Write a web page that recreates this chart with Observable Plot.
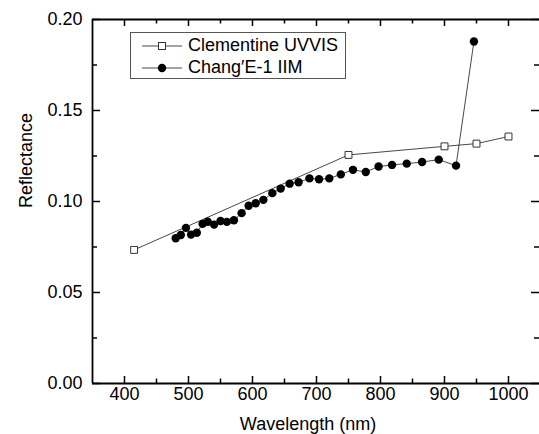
<!DOCTYPE html>
<html><head><meta charset="utf-8">
<script src="https://cdn.jsdelivr.net/npm/d3@7"></script>
<script src="https://cdn.jsdelivr.net/npm/@observablehq/plot@0.6"></script>
<style>
body{margin:0;background:#fff}
#wrap{position:relative;width:539px;height:434px;overflow:hidden}
#wrap svg{display:block}
#legend{position:absolute;left:0;top:0}
</style>
</head><body><div id="wrap"></div>
<script>
const clemWavelength = [415, 750, 900, 950, 1000];
const clemReflectance = [0.0734, 0.1256, 0.1303, 0.1318, 0.1357];
const ceWavelength = [480, 488, 496, 504, 513, 522, 530, 540, 550, 560, 571, 583, 594, 605, 617, 631,
                      644, 658, 672, 689, 704, 720, 738, 757, 777, 797, 818, 841, 865, 891, 918, 946];
const ceReflectance = [0.0798, 0.0816, 0.0855, 0.0818, 0.0828, 0.0877, 0.0889, 0.0873, 0.0893, 0.0888, 0.0897, 0.0936,
                       0.0977, 0.0990, 0.1009, 0.1046, 0.1071, 0.1098, 0.1106, 0.1127, 0.1122, 0.1127, 0.1149, 0.1174,
                       0.1162, 0.1192, 0.1201, 0.1208, 0.1217, 0.1230, 0.1197, 0.1879];
const xTicks = [400, 500, 600, 700, 800, 900, 1000];
const xMinorTicks = [450, 550, 650, 750, 850, 950];
const yTicks = [0, 0.05, 0.10, 0.15, 0.20];
const yMinorTicks = [0.025, 0.075, 0.125, 0.175];
const seriesNames = ["Clementine UVVIS", "Chang\u2032E-1 IIM"];
const xLabel = "Wavelength (nm)";
const yLabel = "Reflectance";

const clem = clemWavelength.map((w, i) => ({w, r: clemReflectance[i]}));
const ce = ceWavelength.map((w, i) => ({w, r: ceReflectance[i]}));

const W = 539, H = 434, mL = 92, mT = 19, mB = 51, mR = 0;
const FH = H - mT - mB, FW = W - mL - mR;
const font = "'Liberation Sans', Arial, Helvetica, sans-serif";

const chart = Plot.plot({
  width: W, height: H,
  marginLeft: mL, marginRight: mR, marginTop: mT, marginBottom: mB,
  style: {fontFamily: font, fontSize: "18px", color: "#000", background: "#fff"},
  x: {domain: [350, 1050], range: [92, 540]},
  y: {domain: [0, 0.2]},
  marks: [
    Plot.line(clem, {x: "w", y: "r", stroke: "#333", strokeWidth: 0.9}),
    Plot.line(ce, {x: "w", y: "r", stroke: "#333", strokeWidth: 0.9}),
    Plot.dot(clem, {x: "w", y: "r", symbol: "square", r: 3.9, stroke: "#333", strokeWidth: 1, fill: "#fff"}),
    Plot.dot(ce, {x: "w", y: "r", r: 4.2, fill: "#000", stroke: "none"}),
    // frame lines (right edge is cropped)
    Plot.ruleY([0, 0.2], {stroke: "#000", strokeWidth: 1.8}),
    Plot.ruleX([350], {stroke: "#000", strokeWidth: 1.8}),
    // inward ticks
    Plot.tickX(xTicks, {x: d => d, insetTop: FH - 7, stroke: "#000", strokeWidth: 1.5}),
    Plot.tickX(xTicks, {x: d => d, insetBottom: FH - 7, stroke: "#000", strokeWidth: 1.5}),
    Plot.tickX(xMinorTicks, {x: d => d, insetTop: FH - 4.5, stroke: "#000", strokeWidth: 1.5}),
    Plot.tickX(xMinorTicks, {x: d => d, insetBottom: FH - 4.5, stroke: "#000", strokeWidth: 1.5}),
    Plot.tickY(yTicks, {y: d => d, insetRight: FW - 8, stroke: "#000", strokeWidth: 1.5}),
    Plot.tickY(yTicks, {y: d => d, insetLeft: FW - 8, stroke: "#000", strokeWidth: 1.5}),
    Plot.tickY(yMinorTicks, {y: d => d, insetRight: FW - 5, stroke: "#000", strokeWidth: 1.5}),
    Plot.tickY(yMinorTicks, {y: d => d, insetLeft: FW - 5, stroke: "#000", strokeWidth: 1.5}),
    Plot.axisX({ticks: xTicks, tickSize: 0, tickPadding: 4, tickFormat: d => String(d), label: null, fontSize: 18}),
    Plot.axisY({ticks: yTicks, tickSize: 0, tickPadding: 10, tickFormat: d3.format(".2f"), label: null, fontSize: 18}),
    Plot.text([xLabel], {text: d => d, frameAnchor: "bottom", lineAnchor: "top", dx: -8, dy: 34, fontSize: 18, fill: "#000"}),
    Plot.text([yLabel], {text: d => d, frameAnchor: "left", rotate: -90, dx: -66, dy: 6.5, fontSize: 18, fill: "#000"})
  ]
});
const wrap = document.getElementById("wrap");
wrap.appendChild(chart);

// legend overlay
const lg = d3.select(wrap).append("svg").attr("id", "legend")
  .attr("width", W).attr("height", H)
  .style("font-family", font).style("font-size", "18px");
lg.append("rect").attr("x", 130.5).attr("y", 32.5).attr("width", 215).attr("height", 46)
  .attr("fill", "#fff").attr("stroke", "#555").attr("stroke-width", 1);
const rows = [46, 68];
seriesNames.forEach((name, i) => {
  const y = rows[i];
  lg.append("line").attr("x1", 142).attr("x2", 182).attr("y1", y).attr("y2", y)
    .attr("stroke", "#333").attr("stroke-width", 0.9);
  if (i === 0) {
    lg.append("rect").attr("x", 158.5).attr("y", y - 3.5).attr("width", 7).attr("height", 7)
      .attr("fill", "#fff").attr("stroke", "#333").attr("stroke-width", 1);
  } else {
    lg.append("circle").attr("cx", 162).attr("cy", y).attr("r", 4.2).attr("fill", "#000");
  }
  lg.append("text").attr("x", 188).attr("y", y + 5).attr("fill", "#000").text(name);
});
</script>
</body></html>
